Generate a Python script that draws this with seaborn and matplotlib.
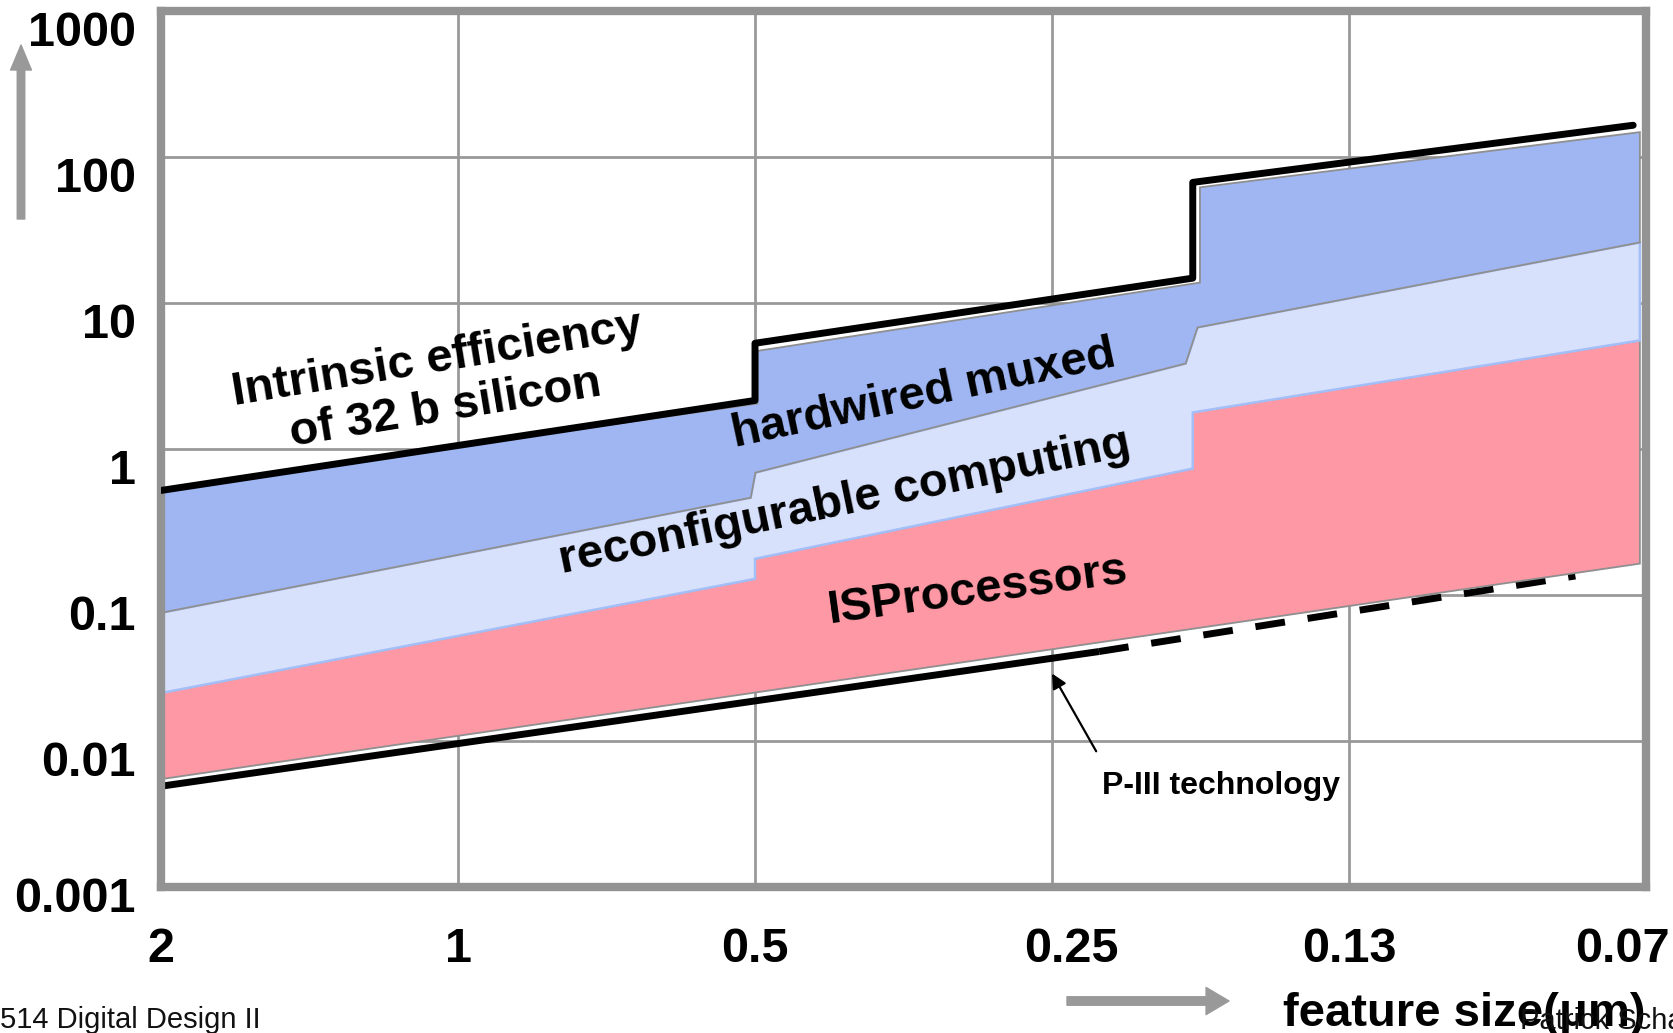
import matplotlib
matplotlib.use("Agg")
import matplotlib.pyplot as plt
from matplotlib.patches import FancyArrowPatch
from matplotlib.ticker import FixedLocator, FixedFormatter, NullLocator, NullFormatter
from matplotlib.transforms import ScaledTranslation
import numpy as np
import seaborn as sns

# ---------------------------------------------------------------- data
# feature-size axis (um) and the labels printed under it
feature_ticks = [2, 1, 0.5, 0.25, 0.125, 0.0625]
feature_labels = ["2", "1", "0.5", "0.25", "0.13", "0.07"]
# efficiency axis (log decades)
eff_ticks = [0.001, 0.01, 0.1, 1, 10, 100, 1000]
eff_labels = ["0.001", "0.01", "0.1", "1", "10", "100", "1000"]

# intrinsic efficiency of 32 b silicon (upper bound)
intrinsic_x = [2, 0.5, 0.5, 0.18, 0.18, 0.0644]
intrinsic_y = [0.52, 2.15, 5.3, 14.8, 67, 165]

# hardwired muxed band, upper edge
hardwired_top_x = [2, 0.497, 0.497, 0.177, 0.177, 0.0634]
hardwired_top_y = [0.53, 2.05, 4.7, 13.8, 62, 148]

# reconfigurable computing band, upper edge (= lower edge of hardwired band)
reconfig_top_x = [2, 0.505, 0.4995, 0.183, 0.178, 0.0634]
reconfig_top_y = [0.0755, 0.464, 0.689, 3.85, 6.8, 26]

# ISProcessors band
isp_top_x = [2, 0.5, 0.5, 0.18, 0.18, 0.0634]
isp_top_y = [0.0213, 0.129, 0.177, 0.734, 1.78, 5.54]
isp_bottom_x = [2, 0.0634]
isp_bottom_y = [0.00548, 0.164]

# P-III technology: realised (solid) and projected (dashed)
p3_solid_x = [2, 0.224]
p3_solid_y = [0.0049, 0.041]
p3_dash_x = [0.224, 0.0737]
p3_dash_y = [0.041, 0.135]

# ---------------------------------------------------------------- style
W, H = 1673, 1033
sns.set_theme(style="white")
plt.rcParams["font.family"] = ["Liberation Sans", "DejaVu Sans"]
plt.rcParams["text.color"] = "black"
plt.rcParams["xtick.color"] = "black"
plt.rcParams["ytick.color"] = "black"
plt.rcParams["axes.labelcolor"] = "black"

GRID = "#999999"
FRAME = "#939393"
BLUE = "#9fb6f2"
LIGHT = "#d8e1fb"
PINK = "#fe98a5"

fig = plt.figure(figsize=(W / 100, H / 100), dpi=100)
ax = fig.add_axes([161 / W, 1 - 887 / H, (1646 - 161) / W, (887 - 11) / H])
ax.set_facecolor("white")
ax.set_xscale("log", base=2)
ax.set_yscale("log")
ax.set_xlim(2, 0.0625)
ax.set_ylim(1e-3, 1e3)


def band(top_x, top_y, bot_x, bot_y, face, edge, lw):
    xs = np.r_[top_x, bot_x[::-1]]
    ys = np.r_[top_y, bot_y[::-1]]
    ax.fill(xs, ys, facecolor=face, edgecolor=edge, linewidth=lw, zorder=2)


band(isp_top_x, isp_top_y, isp_bottom_x, isp_bottom_y, PINK, "#8f8f8f", 1.3)
band(reconfig_top_x, reconfig_top_y, isp_top_x, isp_top_y, LIGHT, "#a4bef8", 1.8)
band(hardwired_top_x, hardwired_top_y, reconfig_top_x, reconfig_top_y, BLUE, "#8f8f8f", 1.3)

# upper bound line
sns.lineplot(x=intrinsic_x, y=intrinsic_y, estimator=None, sort=False,
             color="black", linewidth=5, ax=ax, zorder=4)
# P-III technology line, partly tucked under the ISP band
sns.lineplot(x=p3_solid_x, y=p3_solid_y, estimator=None, sort=False,
             color="black", linewidth=5, ax=ax, zorder=1.5,
             solid_capstyle="butt")
sns.lineplot(x=p3_dash_x, y=p3_dash_y, estimator=None, sort=False,
             color="black", linewidth=5, ax=ax, zorder=1.5,
             linestyle=(0, (4.3, 3.3)), dash_capstyle="butt")
ax.set_xlabel("")
ax.set_ylabel("")

# grid and frame
ax.set_axisbelow(True)
ax.grid(True, which="major", color=GRID, linewidth=2)
for s in ax.spines.values():
    s.set_visible(True)
    s.set_color(FRAME)
    s.set_linewidth(6)

# ticks
ax.xaxis.set_major_locator(FixedLocator(feature_ticks))
ax.xaxis.set_major_formatter(FixedFormatter(feature_labels))
ax.xaxis.set_minor_locator(NullLocator())
ax.xaxis.set_minor_formatter(NullFormatter())
ax.yaxis.set_major_locator(FixedLocator(eff_ticks))
ax.yaxis.set_major_formatter(FixedFormatter(eff_labels))
ax.yaxis.set_minor_locator(NullLocator())
ax.yaxis.set_minor_formatter(NullFormatter())
ax.tick_params(axis="both", length=0, labelsize=35, labelcolor="black")
ax.tick_params(axis="x", pad=29)
ax.tick_params(axis="y", pad=18)

for lab in ax.get_xticklabels() + ax.get_yticklabels():
    lab.set_fontweight("bold")
    lab.set_color("black")
for lab in ax.get_yticklabels():
    lab.set_va("top")

# small nudges so the end labels sit like on the slide
x_nudge = {"0.25": 19, "0.07": -24}
for tick, txt in zip(ax.xaxis.get_major_ticks(), feature_labels):
    dx = x_nudge.get(txt, 0)
    if dx:
        tick.label1.set_transform(tick.label1.get_transform()
                                  + ScaledTranslation(dx / 100, 0, fig.dpi_scale_trans))
y_nudge = {"0.001": 10}
for tick, txt in zip(ax.yaxis.get_major_ticks(), eff_labels):
    dy = y_nudge.get(txt, 0)
    if dy:
        tick.label1.set_transform(tick.label1.get_transform()
                                  + ScaledTranslation(0, dy / 100, fig.dpi_scale_trans))

# band labels
ax.text(1.039, 2.77, "Intrinsic efficiency\nof 32 b silicon", fontsize=34,
        fontweight="bold", rotation=9.3, rotation_mode="anchor", color="black",
        ha="center", va="center", multialignment="center", linespacing=1.15,
        zorder=6)
ax.text(0.337, 2.36, "hardwired muxed", fontsize=34, fontweight="bold", color="black",
        rotation=12.0, rotation_mode="anchor", ha="center", va="center", zorder=6)
ax.text(0.405, 0.429, "reconfigurable computing", fontsize=34, fontweight="bold",
        color="black", rotation=11.7, rotation_mode="anchor", ha="center",
        va="center", zorder=6)
ax.text(0.297, 0.107, "ISProcessors", fontsize=34, fontweight="bold", color="black",
        rotation=7.8, rotation_mode="anchor", ha="center", va="center", zorder=6)

# P-III technology callout
ax.annotate("", xy=(0.25, 0.029), xytext=(0.2255, 0.0085),
            arrowprops=dict(arrowstyle="-|>", color="black", lw=1.6,
                            mutation_scale=22, shrinkA=0, shrinkB=0),
            zorder=6)
ax.text(0.2227, 0.00433, "P-III technology", fontsize=23, fontweight="bold",
        color="black", ha="left", va="baseline", zorder=6)


# axis direction arrows (figure pixel positions)
def fpos(px, py):
    return (px / W, 1 - py / H)


fig.add_artist(FancyArrowPatch(
    fpos(21, 219), fpos(21, 45), transform=fig.transFigure,
    arrowstyle="simple,head_length=1.8,head_width=1.5,tail_width=0.54",
    mutation_scale=10, color="#999999", shrinkA=0, shrinkB=0))
fig.add_artist(FancyArrowPatch(
    fpos(1067, 1001), fpos(1229, 1001), transform=fig.transFigure,
    arrowstyle="simple,head_length=1.65,head_width=1.95,tail_width=0.61",
    mutation_scale=10, color="#999999", shrinkA=0, shrinkB=0))

fig.text(1283 / W, 1 - 1026 / H, "feature size(\u03bcm)", fontsize=34,
         fontweight="bold", color="black", ha="left", va="baseline")

# slide footer
fig.text(261 / W, 1 - 1028 / H, "514 Digital Design II", fontsize=21,
         ha="right", va="baseline", color="#111111")
fig.text(1520 / W, 1 - 1029 / H, "Patrick Scha", fontsize=21,
         ha="left", va="baseline", color="#111111")

fig.savefig("out.png", dpi=100, facecolor="white")
